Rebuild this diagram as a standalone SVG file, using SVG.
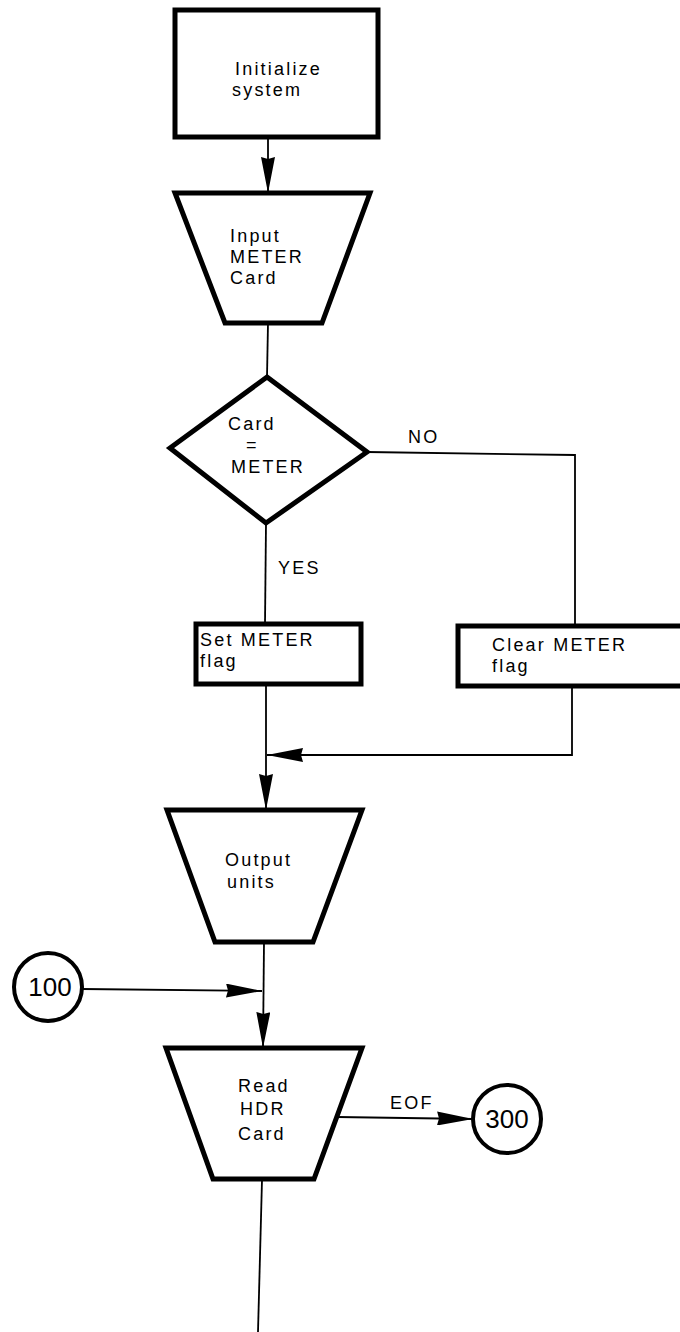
<svg xmlns="http://www.w3.org/2000/svg" width="680" height="1332" viewBox="0 0 680 1332">
<style>
.shape{fill:none;stroke:#000;stroke-width:5;stroke-linejoin:miter}
.circ{fill:none;stroke:#000;stroke-width:4}
.conn{fill:none;stroke:#000;stroke-width:1.8}
.t{font-family:"Liberation Sans",Arial,sans-serif;font-size:18px;letter-spacing:2.2px;fill:#000}
.c{font-family:"Liberation Sans",Arial,sans-serif;font-size:26px;fill:#000;text-anchor:middle}
</style>
<defs>
<marker id="ah" markerUnits="userSpaceOnUse" markerWidth="36" markerHeight="14" refX="36" refY="7" orient="auto" viewBox="0 0 36 14">
<path d="M0,0 L36,7 L0,14 L2,7 z" fill="#000"/>
</marker>
</defs>
<rect width="680" height="1332" fill="#fff"/>
<g id="connectors">
<line class="conn" x1="268" y1="137" x2="268" y2="193" marker-end="url(#ah)"/>
<line class="conn" x1="268" y1="323" x2="267" y2="377"/>
<polyline class="conn" points="367,452 575,455 575,626"/>
<line class="conn" x1="266" y1="523" x2="265" y2="624"/>
<polyline class="conn" points="572,686 572,755 267,755" marker-end="url(#ah)"/>
<line class="conn" x1="266" y1="684" x2="266" y2="810" marker-end="url(#ah)"/>
<line class="conn" x1="264" y1="942" x2="263" y2="1048" marker-end="url(#ah)"/>
<line class="conn" x1="82" y1="989" x2="262" y2="991" marker-end="url(#ah)"/>
<line class="conn" x1="337" y1="1117" x2="473" y2="1119" marker-end="url(#ah)"/>
<line class="conn" x1="262" y1="1180" x2="258" y2="1332"/>
<text class="t" x="408" y="443">NO</text>
<text class="t" x="278" y="574">YES</text>
<text class="t" x="390" y="1109">EOF</text>
</g>
<g id="init">
<rect class="shape" x="175" y="10" width="203" height="127"/>
<text class="t" x="235" y="75">Initialize</text>
<text class="t" x="232" y="96">system</text>
</g>
<g id="input-meter">
<polygon class="shape" points="175,193 370,193 322,323 225,323"/>
<text class="t" x="230" y="242">Input</text>
<text class="t" x="230" y="263">METER</text>
<text class="t" x="230" y="284">Card</text>
</g>
<g id="decision">
<polygon class="shape" points="267,377 367,452 266,523 170,448"/>
<text class="t" x="228" y="430">Card</text>
<text class="t" x="246" y="451">=</text>
<text class="t" x="231" y="473">METER</text>
</g>
<g id="set-flag">
<rect class="shape" x="196" y="624" width="165" height="60"/>
<text class="t" x="200" y="646">Set METER</text>
<text class="t" x="200" y="667">flag</text>
</g>
<g id="clear-flag">
<rect class="shape" x="458" y="626" width="232" height="60"/>
<text class="t" x="492" y="651">Clear METER</text>
<text class="t" x="492" y="672">flag</text>
</g>
<g id="output-units">
<polygon class="shape" points="167,810 362,810 313,942 215,942"/>
<text class="t" x="225" y="866">Output</text>
<text class="t" x="227" y="888">units</text>
</g>
<g id="conn-100">
<circle class="circ" cx="48" cy="987" r="34"/>
<text class="c" x="50" y="996">100</text>
</g>
<g id="read-hdr">
<polygon class="shape" points="166,1048 362,1048 314,1179 213,1179"/>
<text class="t" x="238" y="1092">Read</text>
<text class="t" x="240" y="1115">HDR</text>
<text class="t" x="238" y="1140">Card</text>
</g>
<g id="conn-300">
<circle class="circ" cx="507" cy="1119" r="34"/>
<text class="c" x="507" y="1128">300</text>
</g>
</svg>
